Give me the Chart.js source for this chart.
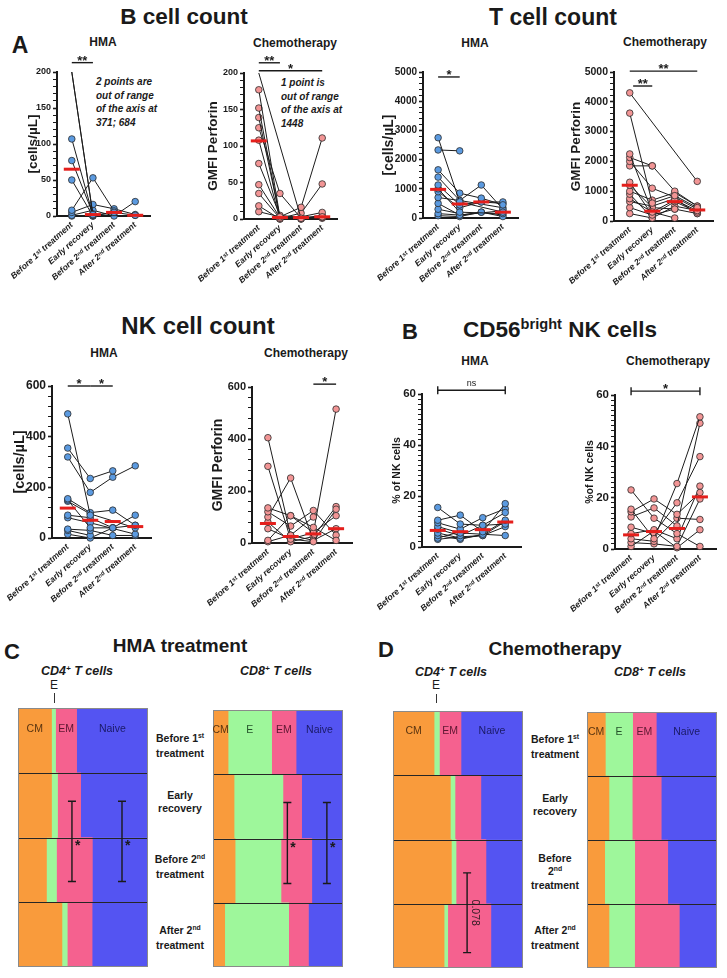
<!DOCTYPE html>
<html>
<head>
<meta charset="utf-8">
<title>Lymphocyte subsets during treatment</title>
<script src="https://cdn.jsdelivr.net/npm/chart.js@4.4.1/dist/chart.umd.min.js"></script>
<style>
  body { margin: 0; background: #fff; }
  #fig { position: relative; width: 727px; height: 978px; overflow: hidden; background: #fff;
         font-family: Arial, "Liberation Sans", Helvetica, sans-serif; color: #1a1a1a; }
  #fig canvas { position: absolute; }
  .lbl { position: absolute; transform: translate(-50%, -50%); white-space: nowrap; font-weight: bold; line-height: 1; }
  .big { font-size: 22.5px; }
  .letter { font-size: 23px; }
  .sub { font-size: 12px; }
  .cell { font-size: 12.5px; font-style: italic; }
  .plain { font-size: 12px; font-weight: normal; }
  .row { font-size: 10.5px; line-height: 12.5px; text-align: center; }
  .note { position: absolute; font-size: 10px; font-weight: bold; font-style: italic; line-height: 13.7px; white-space: nowrap; }
  .tick { position: absolute; width: 0; border-left: 1px solid #333; }
  sup { font-size: 0.65em; vertical-align: 0; position: relative; top: -0.55em; }
</style>
</head>
<body>
<div id="fig">
  <div class="lbl big" style="left:184px;top:17px">B cell count</div>
  <div class="lbl big" style="left:553px;top:17px;font-size:23px">T cell count</div>
  <div class="lbl letter" style="left:20px;top:45px">A</div>
  <div class="lbl sub" style="left:103px;top:42px">HMA</div>
  <div class="lbl sub" style="left:295px;top:43px">Chemotherapy</div>
  <div class="lbl sub" style="left:475px;top:43px">HMA</div>
  <div class="lbl sub" style="left:665px;top:42px">Chemotherapy</div>
  <div class="note" style="left:96px;top:75px">2 points are<br>out of range<br>of the axis at<br>371; 684</div>
  <div class="note" style="left:281px;top:76px">1 point is<br>out of range<br>of the axis at<br>1448</div>

  <div class="lbl big" style="left:198px;top:326px;font-size:24px">NK cell count</div>
  <div class="lbl letter" style="left:410px;top:332px;font-size:22px">B</div>
  <div class="lbl big" style="left:560px;top:330px">CD56<sup>bright</sup> NK cells</div>
  <div class="lbl sub" style="left:104px;top:353px">HMA</div>
  <div class="lbl sub" style="left:306px;top:353px">Chemotherapy</div>
  <div class="lbl sub" style="left:475px;top:361px">HMA</div>
  <div class="lbl sub" style="left:668px;top:361px">Chemotherapy</div>

  <div class="lbl letter" style="left:12px;top:652px;font-size:22px">C</div>
  <div class="lbl big" style="left:180px;top:645px;font-size:19px">HMA treatment</div>
  <div class="lbl cell" style="left:77px;top:671px">CD4<sup>+</sup> T cells</div>
  <div class="lbl cell" style="left:276px;top:671px">CD8<sup>+</sup> T cells</div>
  <div class="lbl plain" style="left:54px;top:685px">E</div>
  <div class="tick" style="left:54px;top:693px;height:10px"></div>
  <div class="lbl row" style="left:180px;top:745px">Before 1<sup>st</sup><br>treatment</div>
  <div class="lbl row" style="left:180px;top:801px">Early<br>recovery</div>
  <div class="lbl row" style="left:180px;top:866px">Before 2<sup>nd</sup><br>treatment</div>
  <div class="lbl row" style="left:180px;top:937px">After 2<sup>nd</sup><br>treatment</div>

  <div class="lbl letter" style="left:386px;top:650px;font-size:22px">D</div>
  <div class="lbl big" style="left:555px;top:648px;font-size:19px">Chemotherapy</div>
  <div class="lbl cell" style="left:451px;top:672px">CD4<sup>+</sup> T cells</div>
  <div class="lbl cell" style="left:650px;top:672px">CD8<sup>+</sup> T cells</div>
  <div class="lbl plain" style="left:436px;top:685px">E</div>
  <div class="tick" style="left:436px;top:694px;height:9px"></div>
  <div class="lbl row" style="left:555px;top:746px">Before 1<sup>st</sup><br>treatment</div>
  <div class="lbl row" style="left:555px;top:804px">Early<br>recovery</div>
  <div class="lbl row" style="left:555px;top:872px">Before<br>2<sup>nd</sup><br>treatment</div>
  <div class="lbl row" style="left:555px;top:937px">After 2<sup>nd</sup><br>treatment</div>
</div>

<script>
// time points (x axis of A/B) and rows of C/D
const timepoints = ['Before 1ˢᵗ treatment', 'Early recovery', 'Before 2ⁿᵈ treatment', 'After 2ⁿᵈ treatment'];
const stages = ['Before 1st treatment', 'Early recovery', 'Before 2nd treatment', 'After 2nd treatment'];
const subsets = ['CM', 'E', 'EM', 'Naive'];

// A: one row per patient, null = no sample at that time point
const bHma = [
  [371, 2, null, null], [684, 1, null, null], [107, 1, 5, null], [77, 3, null, null],
  [50, 0, null, 1], [8, 53, 7, null], [5, 16, 10, 2], [1, 8, 0, 20], [0, 0, 5, 1]
];
const bHmaMedian = [65, 2, 5, 1];

const bChemo = [
  [1448, null, 1, 3], [177, 3, 16, 111], [152, 1, 8, 48], [139, 2, 3, 9], [125, 35, 1, 5],
  [108, 0, 0, 2], [76, 5, 2, 3], [47, 2, 0, null], [35, 1, null, null], [18, 0, null, null], [10, 3, 1, 1]
];
const bChemoMedian = [107, 2, 2, 3];

const tHma = [
  [2750, 550, null, 200], [2330, 2300, null, null], [1650, 850, 680, 450], [1400, 600, 1130, 300],
  [1130, 450, 550, 550], [1000, 200, null, 150], [900, 350, 550, 500], [700, 600, null, 350],
  [500, 100, 200, 50], [300, 150, null, null], [150, 100, null, 250], [80, 50, 200, 100]
];
const tHmaMedian = [980, 480, 550, 200];

const tChemo = [
  [4300, null, null, 1330], [3620, 600, 850, 450], [2250, 300, 700, 350], [2130, 1850, 1000, 500],
  [2000, 1100, 800, 400], [1850, 1850, null, null], [1300, 200, 650, 300], [1200, 450, 400, 250],
  [1000, 700, 950, 500], [900, 100, 500, 350], [750, 300, 100, null], [650, 500, 750, 250],
  [450, 200, 400, null], [250, 100, null, null]
];
const tChemoMedian = [1200, 330, 650, 370];

const nkHma = [
  [490, 90, null, null], [355, 235, 265, null], [320, 180, 240, 285], [155, 100, 110, 50],
  [150, 40, 40, 90], [145, 95, null, 40], [90, 80, 40, null], [80, 60, null, 15],
  [35, 30, 10, 10], [30, 10, null, null], [15, 0, 40, 50]
];
const nkHmaMedian = [118, 70, 65, 45];

const nkChemo = [
  [405, 30, 100, null], [295, 15, 5, 130], [135, 105, 60, 10], [120, 65, 125, 30],
  [100, 250, 10, 55], [80, 5, 25, 140], [55, 15, 40, 515], [10, 105, 40, 105], [5, 30, 10, null]
];
const nkChemoMedian = [75, 25, 35, 55];

// B: CD56bright NK cells, % of NK cells
const cd56Hma = [
  [15.5, 9, 8.5, 13.5], [10.5, 12.5, 6, 17], [9.5, 7, 11.5, 15], [8, 5.5, 5, 10.5],
  [7, 4.5, 8.5, 9], [5.5, 3.5, 4.5, 8], [4.5, 3, 5, 4.5], [3.5, 6, null, null], [3, 4, 4.5, 10]
];
const cd56HmaMedian = [6.5, 6, 6.8, 9.8];

const cd56Chemo = [
  [23, 12, 6, 1], [15.5, 4, 25.5, 51.5], [14.5, 19.5, 13.5, 22], [12.5, 16, 9, 49],
  [8.5, 6, 18, 36], [6, 7.5, 4, 24.5], [4, 3, 12, 11.5], [2.5, 2, 1, 19.5], [1, 7, 0.5, 7.5]
];
const cd56ChemoMedian = [5.5, 6.8, 8, 20.3];

// C/D: % of T cells, one array per subset (CM, E, EM, Naive), values per stage
const hmaCd4 = [[25.8, 25.8, 21.9, 33.8], [3.1, 4.6, 7.7, 4.1], [16.2, 17.8, 27.6, 19.1], [54.9, 51.8, 42.8, 43.0]];
const hmaCd8 = [[11.6, 16.2, 17.0, 9.0], [33.5, 37.6, 35.3, 49.2], [18.8, 14.4, 23.7, 15.2], [36.1, 31.8, 24.0, 26.6]];
const chemoCd4 = [[31.6, 44.1, 44.9, 39.3], [4.1, 3.6, 3.6, 2.8], [16.6, 19.9, 23.0, 33.2], [47.7, 32.4, 28.5, 24.7]];
const chemoCd8 = [[14.1, 16.9, 13.6, 16.9], [21.0, 17.9, 23.1, 19.7], [18.2, 22.3, 25.4, 34.4], [46.7, 42.9, 37.9, 29.0]];

const fam = 'Arial, "Liberation Sans", "DejaVu Sans", sans-serif';
const ink = '#1a1a1a';
const blueDot = '#5b9ae0';
const pinkDot = '#f29595';
const subsetColors = ['#f99b3c', '#9ef79b', '#f5618f', '#5454f2'];
const subsetInk = ['#5a3510', '#24522a', '#5e1732', '#1a1a66'];

Chart.defaults.font.family = fam;
Chart.defaults.color = ink;

function addCanvas(left, top, width, height) {
  const c = document.createElement('canvas');
  c.width = width; c.height = height;
  c.style.left = left + 'px'; c.style.top = top + 'px';
  c.style.width = width + 'px'; c.style.height = height + 'px';
  document.getElementById('fig').appendChild(c);
  return c;
}

// significance bars above the paired plots
const sigBars = {
  id: 'sigBars',
  afterDraw(chart, args, opts) {
    const { ctx, scales: { x, y } } = chart;
    (opts.items || []).forEach(s => {
      const x1 = x.getPixelForValue(s.from), x2 = x.getPixelForValue(s.to);
      const yp = y.getPixelForValue(s.y);
      ctx.save();
      ctx.strokeStyle = ink; ctx.lineWidth = 1.4;
      ctx.beginPath();
      ctx.moveTo(x1, yp); ctx.lineTo(x2, yp);
      if (s.caps) {
        ctx.moveTo(x1, yp - 4); ctx.lineTo(x1, yp + 4);
        ctx.moveTo(x2, yp - 4); ctx.lineTo(x2, yp + 4);
      }
      ctx.stroke();
      ctx.fillStyle = ink; ctx.textAlign = 'center'; ctx.textBaseline = 'alphabetic';
      if (s.text === 'ns') {
        ctx.font = '9px ' + fam;
        ctx.fillText('ns', (x1 + x2) / 2, yp - 4);
      } else {
        ctx.font = 'bold 13px ' + fam;
        ctx.fillText(s.text, (x1 + x2) / 2, yp + 2);
      }
      ctx.restore();
    });
  }
};

function pairedChart(p) {
  const yW = 62, padTop = 34, padR = 6, xH = 74;
  const [l, t, r, b] = p.area;
  const left = l - yW, top = t - padTop;
  const canvas = addCanvas(left, top, yW + r - l + padR, padTop + b - t + xH);
  const lh = p.titleSize * 1.2;

  // out-of-range values are pinned to the axis top like in the original, and not marked
  const datasets = p.patients.map(v => ({
    data: v.map(val => val == null ? null : Math.min(val, p.max)),
    spanGaps: true,
    borderColor: '#1c1c1c',
    borderWidth: 1,
    pointRadius: ctx => v[ctx.dataIndex] > p.max ? 0 : 3.3,
    pointBackgroundColor: p.dot,
    pointBorderColor: '#2b2b2b',
    pointBorderWidth: 0.8,
    clip: { left: 30, top: 0, right: 30, bottom: 8 },
    order: 1
  }));
  datasets.push({
    data: p.median,
    showLine: false,
    pointStyle: 'line',
    pointRadius: 8,
    pointBorderWidth: 3,
    pointBorderColor: '#e41f1c',
    pointBackgroundColor: '#e41f1c',
    clip: false,
    order: 0
  });

  new Chart(canvas, {
    type: 'line',
    data: { labels: timepoints.map((_, i) => i), datasets },
    options: {
      responsive: false,
      animation: false,
      events: [],
      layout: { padding: { top: padTop, right: padR, left: 0, bottom: 0 } },
      plugins: { legend: { display: false }, tooltip: { enabled: false }, sigBars: { items: p.sig } },
      scales: {
        x: {
          type: 'linear', min: -0.7, max: 3.7,
          afterBuildTicks: s => { s.ticks = timepoints.map((_, i) => ({ value: i })); },
          ticks: {
            autoSkip: false, minRotation: 42, maxRotation: 42, padding: 4,
            callback: v => timepoints[v],
            font: { size: 8.5, style: 'italic', weight: 'bold' }, color: ink
          },
          grid: { display: false, drawTicks: false },
          border: { color: ink, width: 2 },
          afterFit: s => { s.height = xH; s.paddingLeft = 0; s.paddingRight = 0; }
        },
        y: {
          min: 0, max: p.max,
          ticks: {
            stepSize: p.minor, autoSkip: false, padding: 2,
            callback: v => v % p.major === 0 ? v : '',
            font: { size: p.tickSize, weight: 'bold' }, color: ink
          },
          grid: {
            drawOnChartArea: false, tickLength: 4, tickColor: ink,
            tickWidth: ctx => (ctx.tick && ctx.tick.value % p.major === 0) ? 1.6 : 1
          },
          border: { color: ink, width: 2 },
          title: {
            display: true, text: p.yTitle, color: ink,
            font: { size: p.titleSize, weight: 'bold' },
            padding: { top: p.titleX - left - lh / 2, bottom: 0 }
          },
          afterFit: s => { s.width = yW; s.paddingTop = 0; s.paddingBottom = 0; }
        }
      }
    },
    plugins: [sigBars]
  });
}

// frame, row lines, subset names and error bars of the composition bars
const compFrame = {
  id: 'compFrame',
  afterDatasetsDraw(chart, args, o) {
    const { ctx, chartArea: a, scales: { x, y } } = chart;
    ctx.save();
    ctx.strokeStyle = '#262626'; ctx.lineWidth = 1;
    for (let i = 0; i < stages.length - 1; i++) {
      const yy = Math.round((y.getPixelForValue(i) + y.getPixelForValue(i + 1)) / 2) + 0.5;
      ctx.beginPath(); ctx.moveTo(a.left, yy); ctx.lineTo(a.right, yy); ctx.stroke();
    }
    ctx.strokeStyle = '#8a8a8a';
    ctx.strokeRect(a.left + 0.5, a.top + 0.5, a.width - 1, a.height - 1);

    ctx.font = '10.5px ' + fam; ctx.textAlign = 'center'; ctx.textBaseline = 'middle';
    subsets.forEach((name, i) => {
      if (!o.inside[i]) return;
      const el = chart.getDatasetMeta(i).data[0];
      ctx.fillStyle = subsetInk[i];
      ctx.fillText(name, (el.x + el.base) / 2, el.y - el.height * 0.18);
    });

    ctx.strokeStyle = ink; ctx.fillStyle = ink; ctx.lineWidth = 1.4;
    (o.bars || []).forEach(bar => {
      const bx = x.getPixelForValue(bar.x);
      const y1 = y.getPixelForValue(bar.from), y2 = y.getPixelForValue(bar.to);
      ctx.beginPath();
      ctx.moveTo(bx, y1); ctx.lineTo(bx, y2);
      ctx.moveTo(bx - 4, y1); ctx.lineTo(bx + 4, y1);
      ctx.moveTo(bx - 4, y2); ctx.lineTo(bx + 4, y2);
      ctx.stroke();
      const my = (y1 + y2) / 2;
      if (bar.text === '*') {
        ctx.font = 'bold 14px ' + fam; ctx.textAlign = 'left'; ctx.textBaseline = 'middle';
        ctx.fillText('*', bx + 3, my + 5);
      } else {
        ctx.save();
        ctx.translate(bx + 8, my); ctx.rotate(Math.PI / 2);
        ctx.font = '10.5px ' + fam; ctx.textAlign = 'center'; ctx.textBaseline = 'middle';
        ctx.fillStyle = '#2a1a20';
        ctx.fillText(bar.text, 0, 0);
        ctx.restore();
      }
    });
    ctx.restore();
  }
};

function compositionChart(area, rows, inside, bars) {
  const [l, t, r, b] = area;
  const canvas = addCanvas(l - 2, t - 2, r - l + 4, b - t + 4);
  new Chart(canvas, {
    type: 'bar',
    data: {
      labels: stages,
      datasets: subsets.map((s, i) => ({
        label: s, data: rows[i], backgroundColor: subsetColors[i],
        borderWidth: 0, barPercentage: 1, categoryPercentage: 1
      }))
    },
    options: {
      indexAxis: 'y',
      responsive: false,
      animation: false,
      events: [],
      layout: { padding: 2 },
      scales: {
        x: { stacked: true, min: 0, max: 100, display: false },
        y: { stacked: true, display: false }
      },
      plugins: { legend: { display: false }, tooltip: { enabled: false }, compFrame: { inside, bars } }
    },
    plugins: [compFrame]
  });
}

const panels = [
  { patients: bHma, median: bHmaMedian, dot: blueDot, max: 200, major: 50, minor: 10,
    area: [57, 72, 155, 216], yTitle: '[cells/µL]', titleX: 33, titleSize: 13.5, tickSize: 9,
    sig: [{ from: 0, to: 1, y: 213, text: '**' }] },
  { patients: bChemo, median: bChemoMedian, dot: pinkDot, max: 200, major: 50, minor: 10,
    area: [244, 73, 342, 219], yTitle: 'GMFI Perforin', titleX: 213, titleSize: 13.5, tickSize: 9,
    sig: [{ from: 0, to: 1, y: 214, text: '**' }, { from: 0, to: 3, y: 203, text: '*' }] },
  { patients: tHma, median: tHmaMedian, dot: blueDot, max: 5000, major: 1000, minor: 200,
    area: [423, 72, 523, 218], yTitle: '[cells/µL]', titleX: 389, titleSize: 14, tickSize: 10,
    sig: [{ from: 0, to: 1, y: 4830, text: '*' }] },
  { patients: tChemo, median: tChemoMedian, dot: pinkDot, max: 5000, major: 1000, minor: 200,
    area: [614, 72, 718, 221], yTitle: 'GMFI Perforin', titleX: 576, titleSize: 13.5, tickSize: 10.5,
    sig: [{ from: 0, to: 3, y: 5030, text: '**' }, { from: 0.15, to: 1, y: 4530, text: '**' }] },
  { patients: nkHma, median: nkHmaMedian, dot: blueDot, max: 600, major: 200, minor: 40,
    area: [52, 386, 156, 538], yTitle: '[cells/µL]', titleX: 20, titleSize: 14.5, tickSize: 12,
    sig: [{ from: 0, to: 1, y: 600, text: '*' }, { from: 1, to: 2, y: 600, text: '*' }] },
  { patients: nkChemo, median: nkChemoMedian, dot: pinkDot, max: 600, major: 200, minor: 40,
    area: [252, 387, 357, 543], yTitle: 'GMFI Perforin', titleX: 218, titleSize: 14, tickSize: 11,
    sig: [{ from: 2, to: 3, y: 611, text: '*' }] },
  { patients: cd56Hma, median: cd56HmaMedian, dot: blueDot, max: 60, major: 20, minor: 2,
    area: [422, 394, 526, 547], yTitle: '% of NK cells', titleX: 397, titleSize: 10.5, tickSize: 11.5,
    sig: [{ from: 0, to: 3, y: 61.5, text: 'ns', caps: true }] },
  { patients: cd56Chemo, median: cd56ChemoMedian, dot: pinkDot, max: 60, major: 20, minor: 2,
    area: [615, 395, 721, 549], yTitle: '%of NK cells', titleX: 590, titleSize: 10.5, tickSize: 11.5,
    sig: [{ from: 0, to: 3, y: 61.5, text: '*', caps: true }] }
];
panels.forEach(pairedChart);

compositionChart([18, 708, 148, 967], hmaCd4, [true, false, true, true],
  [{ x: 41.5, from: 0.94, to: 2.18, text: '*' }, { x: 80, from: 0.94, to: 2.18, text: '*' }]);
compositionChart([213, 710, 343, 967], hmaCd8, [true, true, true, true],
  [{ x: 57.2, from: 0.94, to: 2.2, text: '*' }, { x: 87.6, from: 0.94, to: 2.2, text: '*' }]);
compositionChart([393, 711, 523, 968], chemoCd4, [true, false, true, true],
  [{ x: 57, from: 2.02, to: 3.26, text: '0.078' }]);
compositionChart([587, 712, 717, 968], chemoCd8, [true, true, true, true], []);
</script>
</body>
</html>
